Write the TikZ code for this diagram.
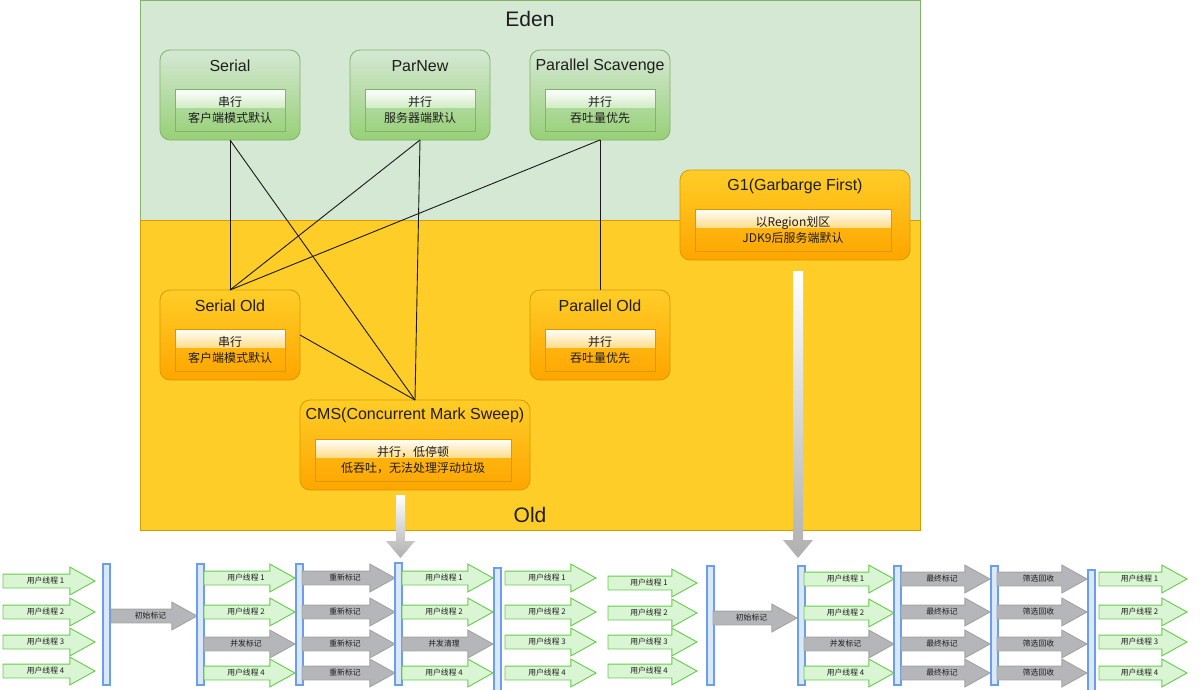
\documentclass[tikz,border=0pt]{standalone}
\usepackage{fontspec}
\setmainfont{Liberation Sans}
\newfontfamily\cjk{Noto Sans CJK SC}
\usetikzlibrary{shapes.arrows}
\definecolor{edenfill}{HTML}{D5E8D4}
\definecolor{edenline}{HTML}{82B366}
\definecolor{gtop}{HTML}{D5E8D4}
\definecolor{gbot}{HTML}{97D077}
\definecolor{oldfill}{HTML}{FFCD28}
\definecolor{oldline}{HTML}{D79B00}
\definecolor{otop}{HTML}{FFCD28}
\definecolor{obot}{HTML}{FFA500}
\definecolor{glg}{RGB}{212,236,200}
\definecolor{glo}{RGB}{255,222,140}
\definecolor{barfill}{HTML}{DAE8FC}
\definecolor{barline}{HTML}{6D9EEB}
\definecolor{uthfill}{HTML}{D9F5D3}
\definecolor{uthline}{HTML}{66CC4C}
\definecolor{gcfill}{HTML}{B4B6B9}
\definecolor{gcline}{HTML}{A3A3A3}
\definecolor{downgray}{RGB}{176,176,176}
\definecolor{txt}{HTML}{1E1E1E}
\tikzset{
  region/.style={line width=1pt, inner sep=0pt, outer sep=0pt, anchor=north west, minimum width=780pt},
  rlabel/.style={font=\fontsize{21}{24}\selectfont, text=txt, inner sep=0pt},
  boxbase/.style={rounded corners=10pt, line width=0.8pt, inner sep=0pt, outer sep=0pt, anchor=north west, minimum height=90pt},
  gbox/.style={boxbase, draw=edenline, top color=gtop, bottom color=gbot},
  obox/.style={boxbase, draw=oldline, top color=otop, bottom color=obot},
  ttl/.style={font=\fontsize{16}{18}\selectfont, text=txt, inner sep=0pt},
  inbox/.style={line width=0.6pt, inner sep=0pt, outer sep=0pt, anchor=north west, minimum height=42pt, align=center, font=\cjk\fontsize{12}{16}\selectfont, text=txt},
  conn/.style={draw=black!90, line width=0.9pt},
  bar/.style={draw=barline, fill=barfill, line width=1.2pt, inner sep=0pt, outer sep=0pt, anchor=north west, minimum width=7pt},
  tarrow/.style={single arrow, single arrow head extend=7pt, single arrow tip angle=58, inner xsep=0pt, inner ysep=6.5pt, outer sep=0pt, anchor=tail, line width=0.9pt},
  uarrow/.style={tarrow, fill=uthfill, draw=uthline},
  garrow/.style={tarrow, fill=gcfill, draw=gcline},
  alabel/.style={font=\cjk\fontsize{7.8}{8}\selectfont, text=txt, inner sep=0pt},
}
% arrow: #1 name, #2 style, #3 tail x, #4 tip x, #5 y, #6 text
\newcommand\tlarrow[6]{%
  \node[#2, minimum height={#4-#3}] (#1) at (#3,#5) {};
  \node[alabel] (#1T) at ({(#3+#4)/2-3.5},#5) {#6};
}
\newcommand\glassrect[5]{\shade[top color=white, bottom color=#5] (#1,#2) rectangle ({#1+#3},{#2+#4});}
\begin{document}
\begin{tikzpicture}[x=1pt,y=-1pt]
\useasboundingbox (0,0) rectangle (1200,689);
% regions
\node[region, fill=edenfill, draw=edenline, minimum height=220pt] (eden) at (140,0) {};
\node[region, fill=oldfill, draw=oldline, minimum height=310pt] (old) at (140,220) {};
\node[rlabel] (edenT) at (530,19) {Eden};
\node[rlabel] (oldT) at (530,515) {Old};

% collectors
\node[gbox, minimum width=140pt] (serial) at (160,50) {};
\node[gbox, minimum width=140pt] (parnew) at (350,50) {};
\node[gbox, minimum width=140pt] (ps) at (530,50) {};
\node[obox, minimum width=140pt] (serialold) at (160,290) {};
\node[obox, minimum width=140pt] (parold) at (530,290) {};
\node[obox, minimum width=230pt] (cms) at (300,400) {};
\node[obox, minimum width=230pt] (g1) at (680,170) {};

% connectors
\draw[conn] (serial.south) -- (serialold.north);
\draw[conn] (serial.south) -- (cms.north);
\draw[conn] (parnew.south) -- (serialold.north);
\draw[conn] (parnew.south) -- (cms.north);
\draw[conn] (ps.south) -- (serialold.north);
\draw[conn] (ps.south) -- (parold.north);
\draw[conn] (serialold.east) -- (cms.north);

% titles
\node[ttl] (serialT) at (230,66) {Serial};
\node[ttl] (parnewT) at (420,66) {ParNew};
\node[ttl] (psT) at (600,66) {Parallel Scavenge};
\node[ttl] (serialoldT) at (230,306) {Serial Old};
\node[ttl] (paroldT) at (600,306) {Parallel Old};
\node[ttl] (cmsT) at (415,415) {CMS(Concurrent Mark Sweep)};
\node[ttl] (g1T) at (795,186) {G1(Garbarge First)};

% inner boxes
\glassrect{175}{89}{110}{18}{glg}
\node[inbox, draw=edenline, minimum width=110pt] (serialI) at (175,89) {串行\\客户端模式默认};
\glassrect{365}{89}{110}{18}{glg}
\node[inbox, draw=edenline, minimum width=110pt] (parnewI) at (365,89) {并行\\服务器端默认};
\glassrect{545}{89}{110}{18}{glg}
\node[inbox, draw=edenline, minimum width=110pt] (psI) at (545,89) {并行\\吞吐量优先};
\glassrect{175}{329}{110}{18}{glo}
\node[inbox, draw=oldline, minimum width=110pt] (serialoldI) at (175,329) {串行\\客户端模式默认};
\glassrect{545}{329}{110}{18}{glo}
\node[inbox, draw=oldline, minimum width=110pt] (paroldI) at (545,329) {并行\\吞吐量优先};
\glassrect{315}{439}{196}{18}{glo}
\node[inbox, draw=oldline, minimum width=196pt] (cmsI) at (315,439) {并行，低停顿\\低吞吐，无法处理浮动垃圾};
\glassrect{695}{209}{196}{18}{glo}
\node[inbox, draw=oldline, minimum width=196pt] (g1I) at (695,209) {以Region划区\\JDK9后服务端默认};

% down arrows
\shade[top color=white, bottom color=downgray] (396,495) -- (405,495) -- (405,541) -- (415,541) -- (400.5,558) -- (386,541) -- (396,541) -- cycle;
\shade[top color=white, bottom color=downgray] (793,271) -- (803,271) -- (803,540) -- (813,540) -- (798,558) -- (783,540) -- (793,540) -- cycle;

% timeline CMS
\tlarrow{a1}{uarrow}{3}{95}{581}{用户线程 1}
\tlarrow{a2}{uarrow}{3}{95}{612}{用户线程 2}
\tlarrow{a3}{uarrow}{3}{95}{642}{用户线程 3}
\tlarrow{a4}{uarrow}{3}{95}{671}{用户线程 4}
\node[bar, minimum height=121pt] (b1) at (103,564) {};
\tlarrow{ai}{garrow}{111}{197}{616}{初始标记}
\node[bar, minimum height=121pt] (b2) at (197,564) {};
\tlarrow{c1}{uarrow}{204}{295}{578}{用户线程 1}
\tlarrow{c2}{uarrow}{204}{295}{612}{用户线程 2}
\tlarrow{c3}{garrow}{204}{295}{644}{并发标记}
\tlarrow{c4}{uarrow}{204}{295}{673}{用户线程 4}
\node[bar, minimum height=121pt] (b3) at (296,564) {};
\tlarrow{d1}{garrow}{302}{395}{578}{重新标记}
\tlarrow{d2}{garrow}{302}{395}{612}{重新标记}
\tlarrow{d3}{garrow}{302}{395}{644}{重新标记}
\tlarrow{d4}{garrow}{302}{395}{673}{重新标记}
\node[bar, minimum height=122pt] (b4) at (395,563) {};
\tlarrow{e1}{uarrow}{402}{493}{578}{用户线程 1}
\tlarrow{e2}{uarrow}{402}{493}{612}{用户线程 2}
\tlarrow{e3}{garrow}{402}{493}{644}{并发清理}
\tlarrow{e4}{uarrow}{402}{493}{673}{用户线程 4}
\node[bar, minimum height=124pt] (b5) at (494,568) {};
\tlarrow{f1}{uarrow}{505}{596}{578}{用户线程 1}
\tlarrow{f2}{uarrow}{505}{596}{612}{用户线程 2}
\tlarrow{f3}{uarrow}{505}{596}{642}{用户线程 3}
\tlarrow{f4}{uarrow}{505}{596}{673}{用户线程 4}

% timeline G1
\tlarrow{g1a}{uarrow}{608}{697}{583}{用户线程 1}
\tlarrow{g1b}{uarrow}{608}{697}{613}{用户线程 2}
\tlarrow{g1c}{uarrow}{608}{697}{642}{用户线程 3}
\tlarrow{g1d}{uarrow}{608}{697}{671}{用户线程 4}
\node[bar, minimum height=119pt] (b6) at (707,566) {};
\tlarrow{gi}{garrow}{713}{797}{618}{初始标记}
\node[bar, minimum height=119pt] (b7) at (798,566) {};
\tlarrow{h1}{uarrow}{804}{894}{579}{用户线程 1}
\tlarrow{h2}{uarrow}{804}{894}{613}{用户线程 2}
\tlarrow{h3}{garrow}{804}{894}{644}{并发标记}
\tlarrow{h4}{uarrow}{804}{894}{673}{用户线程 4}
\node[bar, minimum height=119pt] (b8) at (894,566) {};
\tlarrow{k1}{garrow}{901}{990}{579}{最终标记}
\tlarrow{k2}{garrow}{901}{990}{612}{最终标记}
\tlarrow{k3}{garrow}{901}{990}{644}{最终标记}
\tlarrow{k4}{garrow}{901}{990}{673}{最终标记}
\node[bar, minimum height=119pt] (b9) at (991,566) {};
\tlarrow{m1}{garrow}{997}{1087}{579}{筛选回收}
\tlarrow{m2}{garrow}{997}{1087}{612}{筛选回收}
\tlarrow{m3}{garrow}{997}{1087}{644}{筛选回收}
\tlarrow{m4}{garrow}{997}{1087}{673}{筛选回收}
\node[bar, minimum height=122pt] (b10) at (1088,570) {};
\tlarrow{p1}{uarrow}{1099}{1187}{579}{用户线程 1}
\tlarrow{p2}{uarrow}{1099}{1187}{612}{用户线程 2}
\tlarrow{p3}{uarrow}{1099}{1187}{642}{用户线程 3}
\tlarrow{p4}{uarrow}{1099}{1187}{673}{用户线程 4}
\end{tikzpicture}
\end{document}
